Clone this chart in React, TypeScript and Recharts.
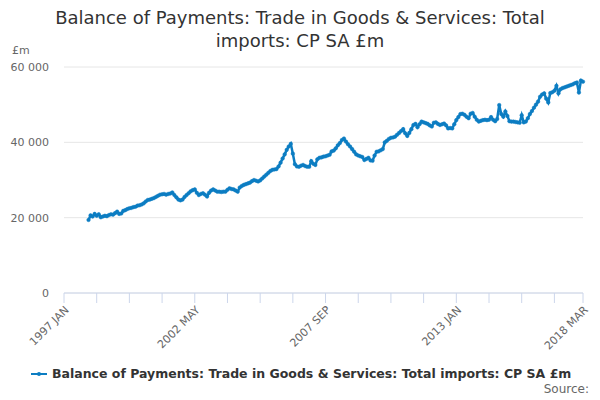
import React from "react";
import { LineChart, Line, XAxis, YAxis, CartesianGrid } from "recharts";

const MONTHS = ["JAN", "FEB", "MAR", "APR", "MAY", "JUN", "JUL", "AUG", "SEP", "OCT", "NOV", "DEC"];

// 1997 JAN .. 2018 MAR, monthly
const categories: string[] = [];
for (let y = 1997; y <= 2018; y++) {
  for (let m = 0; m < 12; m++) {
    if (y === 2018 && m > 2) break;
    categories.push(`${y} ${MONTHS[m]}`);
  }
}

// £m (no values drawn for 1997)
const imports1997: (number | null)[] = [null, null, null, null, null, null, null, null, null, null, null, null];
const imports1998 = [19400, 20600, 20300, 21000, 20500, 20900, 20100, 20300, 20500, 20400, 20700, 20900];
const imports1999 = [20800, 21200, 21600, 21000, 21100, 21800, 22000, 22300, 22500, 22600, 22800, 22900];
const imports2000 = [23200, 23300, 23500, 23800, 24300, 24700, 24800, 25000, 25200, 25500, 25800, 26100];
const imports2001 = [26200, 26300, 26100, 26300, 26400, 26700, 26000, 25400, 24800, 24600, 24800, 25500];
const imports2002 = [26000, 26500, 27000, 27300, 27500, 26600, 26000, 26300, 26500, 26100, 25600, 26600];
const imports2003 = [27200, 27500, 27200, 26900, 26900, 26800, 26900, 26900, 27400, 27800, 27600, 27500];
const imports2004 = [27200, 26900, 28000, 28400, 28700, 28900, 29100, 29300, 29700, 30000, 29800, 29600];
const imports2005 = [29900, 30400, 30900, 31400, 31900, 32400, 32700, 32800, 32900, 33600, 34600, 35700];
const imports2006 = [36800, 38000, 38900, 39600, 37000, 34200, 33600, 33500, 33800, 34000, 33700, 33500];
const imports2007 = [33500, 35000, 34300, 34000, 35500, 35900, 36000, 36200, 36300, 36500, 36700, 37600];
const imports2008 = [37800, 38400, 39200, 39800, 40600, 41000, 40200, 39500, 38900, 38200, 37500, 36800];
const imports2009 = [36500, 36300, 36100, 35300, 35600, 35900, 35200, 35100, 36500, 37500, 37600, 37900];
const imports2010 = [38200, 40000, 40400, 40900, 41200, 41300, 41500, 42000, 42500, 43000, 43500, 42400];
const imports2011 = [41700, 42500, 43500, 44600, 44900, 44000, 44800, 45500, 45300, 45100, 44900, 44500];
const imports2012 = [44200, 45200, 45300, 44900, 44600, 44800, 45000, 44500, 43700, 43800, 43700, 44800];
const imports2013 = [45900, 46700, 47500, 47600, 47300, 46800, 46400, 47600, 47800, 46800, 46000, 45500];
const imports2014 = [45700, 45900, 46000, 45900, 46000, 46700, 46000, 45600, 46200, 49900, 47500, 46800];
const imports2015 = [48200, 47000, 45600, 45500, 45500, 45400, 45300, 45200, 47200, 45300, 45500, 46400];
const imports2016 = [47500, 48300, 49200, 50000, 50800, 52100, 52700, 53000, 51600, 50600, 53100, 53300];
const imports2017 = [53700, 55000, 53000, 54100, 54400, 54600, 54800, 55000, 55200, 55400, 55700, 55900];
const imports2018 = [53200, 56400, 56100];

const values: (number | null)[] = [
  ...imports1997, ...imports1998, ...imports1999, ...imports2000, ...imports2001,
  ...imports2002, ...imports2003, ...imports2004, ...imports2005, ...imports2006,
  ...imports2007, ...imports2008, ...imports2009, ...imports2010, ...imports2011,
  ...imports2012, ...imports2013, ...imports2014, ...imports2015, ...imports2016,
  ...imports2017, ...imports2018,
];

const yTicks = [0, 20000, 40000, 60000];
// tick marks every 16 months plus the last month; labels on every fourth
const tickIdx = [0, 16, 32, 48, 64, 80, 96, 112, 128, 144, 160, 176, 192, 208, 224, 240, 254];
const labelIdx = [0, 64, 128, 192, 254];
const xTicks = tickIdx.map((i) => categories[i]);
const xLabels = labelIdx.map((i) => categories[i]);

const title = "Balance of Payments: Trade in Goods & Services: Total imports: CP SA £m";

const data = categories.map((month, i) => ({ month, value: values[i] }));

const lineColor = "#0c7dc2";
const axisColor = "#ccd6eb";
const font = "'DejaVu Sans', Verdana, sans-serif";
const TICK_LEN = 10;

const fmt = (v: number) => String(v).replace(/\B(?=(\d{3})+(?!\d))/g, " ");

// draws the tick mark itself, and the rotated label where there is one
const XTick = (props: any) => {
  const { x, y, payload } = props;
  const labelled = xLabels.includes(payload.value);
  return (
    <g transform={`translate(${x},${y})`}>
      <line x1={0} y1={-TICK_LEN} x2={0} y2={0} stroke={axisColor} strokeWidth={1} />
      {labelled && (
        <text
          x={0}
          y={0}
          dx={-1.4}
          dy={9.4}
          textAnchor="end"
          transform="rotate(-45)"
          fontSize={11}
          fill="#666"
          fontFamily={font}
        >
          {payload.value}
        </text>
      )}
    </g>
  );
};

export default function App() {
  return (
    <div style={{ position: "absolute", left: 0, top: 0, width: 600, height: 400, background: "#fff", fontFamily: font }}>
      <div
        style={{
          position: "absolute",
          top: 6,
          left: 0,
          width: 600,
          textAlign: "center",
          fontSize: 18,
          lineHeight: "23px",
          color: "#333",
        }}
      >
        Balance of Payments: Trade in Goods &amp; Services: Total
        <br />
        imports: CP SA £m
      </div>
      <div style={{ position: "absolute", left: 12, top: 44, fontSize: 11, color: "#666" }}>£m</div>

      <LineChart width={600} height={400} data={data} margin={{ top: 67, right: 17, bottom: 47, left: 0 }}>
        <CartesianGrid vertical={false} stroke="#e6e6e6" />
        <XAxis
          dataKey="month"
          ticks={xTicks}
          interval={0}
          tick={<XTick />}
          tickSize={TICK_LEN}
          tickMargin={0}
          tickLine={false}
          axisLine={{ stroke: axisColor }}
          height={60}
        />
        <YAxis
          domain={[0, 60000]}
          ticks={yTicks}
          width={64}
          axisLine={false}
          tickLine={false}
          tickSize={0}
          tickMargin={15}
          tickFormatter={fmt}
          tick={{ fontSize: 11, fill: "#666", fontFamily: font }}
        />
        <Line
          type="linear"
          dataKey="value"
          stroke={lineColor}
          strokeWidth={2.5}
          dot={{ r: 1.8, fill: lineColor, stroke: lineColor, strokeWidth: 0.5 }}
          isAnimationActive={false}
        />
      </LineChart>

      <div
        style={{
          position: "absolute",
          left: 30,
          top: 366,
          display: "flex",
          alignItems: "center",
          fontSize: 12.5,
          fontWeight: "bold",
          color: "#333",
        }}
      >
        <svg width={18} height={10} style={{ marginRight: 4 }}>
          <line x1={1} y1={5} x2={17} y2={5} stroke={lineColor} strokeWidth={2} />
          <circle cx={9} cy={5} r={2} fill={lineColor} />
        </svg>
        {title}
      </div>
      <div style={{ position: "absolute", right: 11, top: 382, fontSize: 12, color: "#666" }}>Source:</div>
    </div>
  );
}
